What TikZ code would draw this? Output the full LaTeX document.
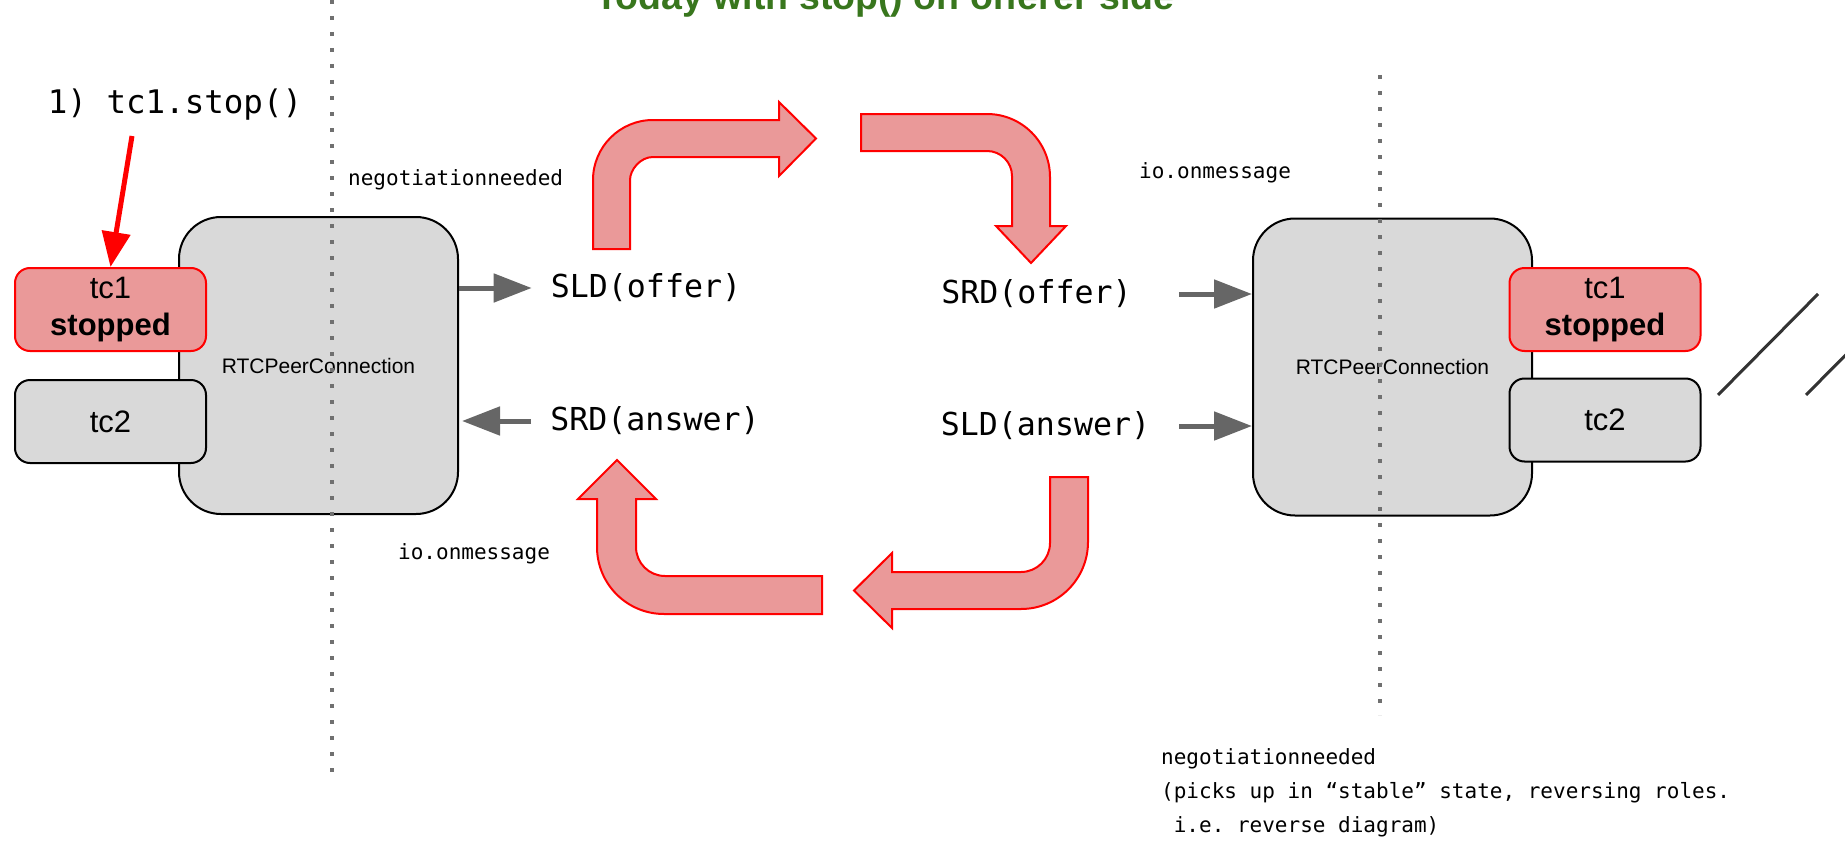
\documentclass[tikz,border=0pt]{standalone}
\usepackage{fontspec}
\setmainfont{Liberation Sans}
\setmonofont{DejaVu Sans Mono}
\usepackage{xcolor}
\usepackage{tikz}
\usetikzlibrary{calc,arrows.meta}

\definecolor{boxgray}{HTML}{D9D9D9}
\definecolor{pinkfill}{HTML}{EA9999}
\definecolor{titlegreen}{HTML}{38761D}
\definecolor{flowgray}{HTML}{666666}
\definecolor{dotgray}{HTML}{707070}
\definecolor{slashgray}{HTML}{333333}

\tikzset{
  pcbox/.style={draw=black, line width=2pt, fill=boxgray, rounded corners=42pt, minimum width=279pt, minimum height=297pt, inner sep=0pt, font=\fontsize{21}{25}\selectfont},
  tcbox/.style={draw=black, line width=2pt, fill=boxgray, rounded corners=15pt, minimum width=191pt, minimum height=83pt, inner sep=0pt, align=center, font=\fontsize{31}{37}\selectfont},
  stoppedbox/.style={tcbox, draw=red, fill=pinkfill},
  calltext/.style={inner sep=0pt, font=\ttfamily\fontsize{31.6}{38}\selectfont},
  eventtext/.style={inner sep=0pt, anchor=west, align=left, font=\ttfamily\fontsize{21}{34}\selectfont},
  flow/.style={draw=flowgray, line width=5pt, -{Triangle[length=38pt,width=28pt]}},
  stoparrow/.style={draw=red, line width=5pt, -{Triangle[length=35pt,width=28pt]}},
  turnarrow/.style={draw=red, line width=2pt, fill=pinkfill, line join=miter},
  divider/.style={draw=dotgray, line width=4pt, dash pattern=on 4pt off 12pt},
  slash/.style={draw=slashgray, line width=3pt}
}

\begin{document}
\begin{tikzpicture}[x=1pt,y=-1pt]
\clip (0,0) rectangle (1845,843);
\node[anchor=base, text=titlegreen, font=\bfseries\fontsize{37.5}{45}\selectfont] (title) at (885,10) {Today with stop() on offerer side};

\node[pcbox] (pcL) at (318.5,365.5) {RTCPeerConnection};
\node[pcbox] (pcR) at (1392.5,367) {RTCPeerConnection};
\node[stoppedbox] (tc1L) at (110.5,309.5) {tc1\\\textbf{stopped}};
\node[tcbox] (tc2L) at (110.5,421.5) {tc2};
\node[stoppedbox] (tc1R) at (1605,309.5) {tc1\\\textbf{stopped}};
\node[tcbox] (tc2R) at (1605,420) {tc2};

\draw[divider] (332,0) -- (332,777);
\draw[divider] (1380,75) -- (1380,715);

\node[inner sep=0pt, font=\ttfamily\fontsize{32.5}{39}\selectfont] (stop) at (175,105) {1) tc1.stop()};
\coordinate (stopfrom) at (132,136);
\draw[stoparrow] (stopfrom) -- (tc1L.north);

\node[calltext] (sldO) at (646,288) {SLD(offer)};
\node[calltext] (srdA) at (655,421) {SRD(answer)};
\node[calltext] (srdO) at (1036.5,294) {SRD(offer)};
\node[calltext] (sldA) at (1045.5,426) {SLD(answer)};

\node[eventtext] (negL) at (348,180) {negotiationneeded};
\node[eventtext] (ioL) at (398,554) {io.onmessage};
\node[eventtext] (ioR) at (1139,173) {io.onmessage};
\node[eventtext, anchor=north west] (negR) at (1161,748) {negotiationneeded\\(picks up in “stable” state, reversing roles.\\\ i.e. reverse diagram)};

\draw[flow, shorten >=19pt] (pcL.east |- sldO) -- (sldO.west);
\draw[flow, shorten <=19pt, shorten >=3pt] (srdA.west) -- (pcL.east |- srdA);
\draw[flow, shorten <=47pt] (srdO.east) -- (pcR.west |- srdO);
\draw[flow, shorten <=29pt] (sldA.east) -- (pcR.west |- sldA);

\draw[turnarrow] (593,249) -- (593,180) .. controls (593,146.9) and (619.9,120) .. (653,120) -- (779,120) -- (779,102) -- (816,138.5) -- (779,176) -- (779,157) -- (653,157) .. controls (640.3,157) and (630,169.7) .. (630,180) -- (630,249) -- cycle;
\draw[turnarrow] (861,114) -- (987,114) .. controls (1021.8,114) and (1050,142.2) .. (1050,177) -- (1050,226) -- (1066,226) -- (1031,263) -- (996,226) -- (1012,226) -- (1012,176) .. controls (1012,162.2) and (1000.8,151) .. (987,151) -- (861,151) -- cycle;
\draw[turnarrow] (1050,477) -- (1088,477) -- (1088,542) .. controls (1088,579) and (1058,609) .. (1021,609) -- (892,609) -- (892,628) -- (854,590.5) -- (892,553) -- (892,572) -- (1021,572) .. controls (1037,572) and (1050,559) .. (1050,543) -- cycle;
\draw[turnarrow] (822,576) -- (665,576) .. controls (649,576) and (636,563) .. (636,547) -- (636,499) -- (656,499) -- (617,460) -- (578,499) -- (597,499) -- (597,547) .. controls (597,584) and (627,614) .. (664,614) -- (822,614) -- cycle;

\draw[slash] (1718,395) -- (1818,294);
\draw[slash] (1806,395) -- (1906,294);
\end{tikzpicture}
\end{document}
